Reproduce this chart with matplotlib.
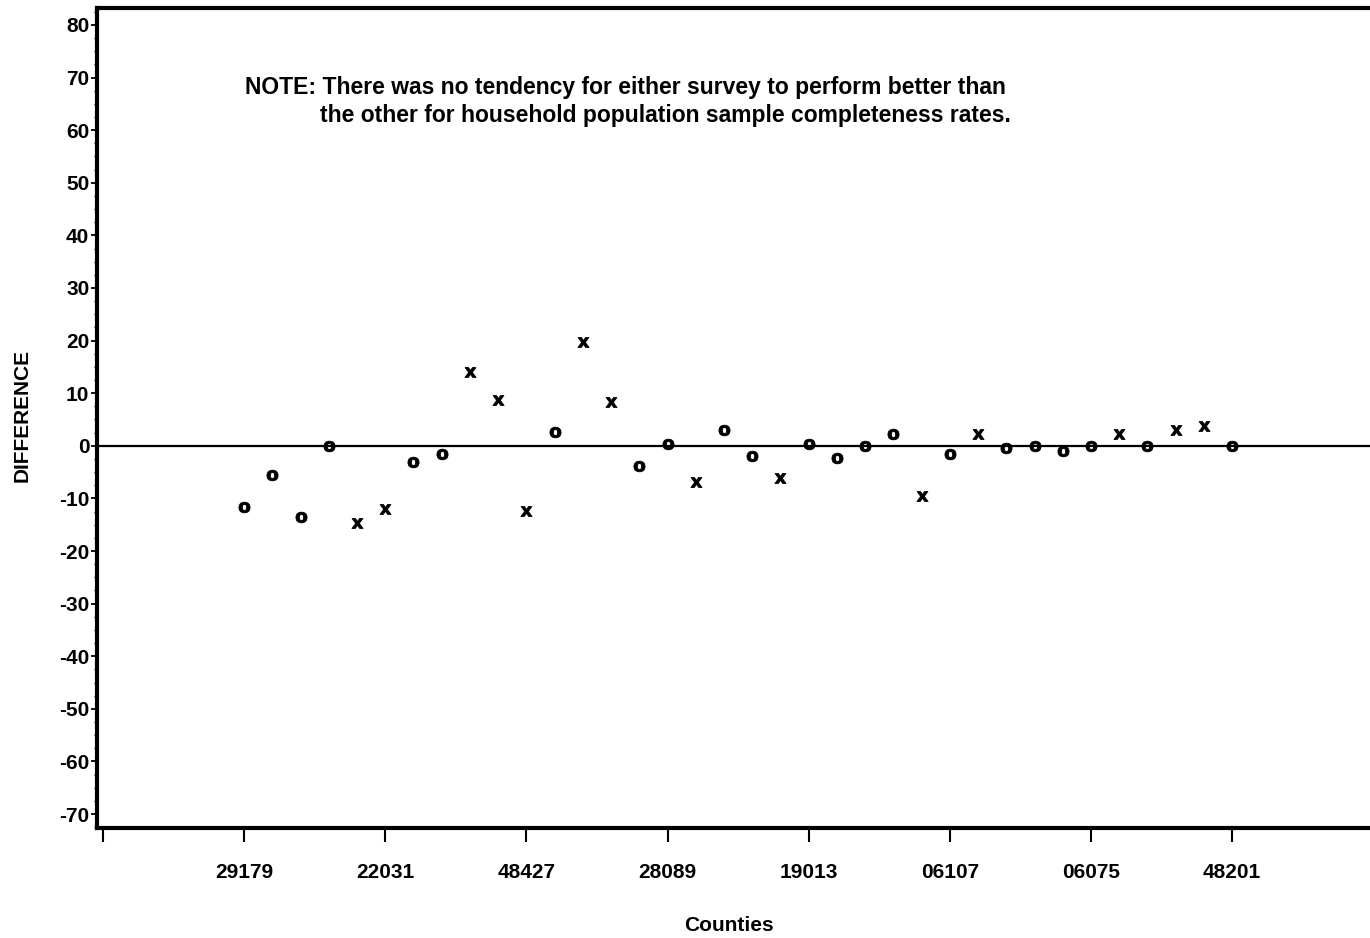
import matplotlib
matplotlib.use("Agg")
import matplotlib.pyplot as plt
from matplotlib.ticker import MultipleLocator, FixedLocator

plt.rcParams['font.family'] = ['Liberation Sans', 'DejaVu Sans']
plt.rcParams['font.weight'] = 'bold'
plt.rcParams['axes.unicode_minus'] = False

# county tick labels (every 5th position)
tick_pos = [-5, 0, 5, 10, 15, 20, 25, 30, 35]
tick_labels = ['', '29179', '22031', '48427', '28089', '19013', '06107', '06075', '48201']

# differences per county, with the survey that did better
diff = [-11.7, -5.6, -13.6, 0.0, -14.7, -12.1, -3.0, -1.5, 14.1, 8.8,
        -12.4, 2.7, 19.8, 8.4, -3.9, 0.4, -6.8, 3.0, -2.0, -6.2,
        0.4, -2.4, 0.0, 2.3, -9.5, -1.5, 2.3, -0.4, 0.0, -0.9,
        0.0, 2.3, 0.0, 3.0, 3.8, 0.0]
symbol = ['o', 'o', 'o', 'o', 'x', 'x', 'o', 'o', 'x', 'x',
          'x', 'o', 'x', 'x', 'o', 'o', 'x', 'o', 'o', 'x',
          'o', 'o', 'o', 'o', 'x', 'o', 'x', 'o', 'o', 'o',
          'o', 'x', 'o', 'x', 'x', 'o']

W, H = 1370, 938
fig = plt.figure(figsize=(W / 100, H / 100), dpi=100)
left, right, top, bottom = 97, 1372, 8, 828
ax = fig.add_axes([left / W, 1 - bottom / H, (right - left) / W, (bottom - top) / H])

xs = list(range(len(diff)))
for s in ['o', 'x']:
    px = [x for x, m in zip(xs, symbol) if m == s]
    py = [y for y, m in zip(diff, symbol) if m == s]
    ax.plot(px, py, linestyle='none', marker=r'$\mathrm{%s}$' % s,
            markersize=8, color='black', markeredgewidth=0.6)

ax.axhline(0, color='black', lw=1.6, zorder=1)

ax.set_xlim(-5.21, -5.21 + (right - left) / 28.23)
ax.set_ylim(-72.66, 83.23)

ax.yaxis.set_major_locator(MultipleLocator(10))
ax.yaxis.set_minor_locator(MultipleLocator(2.5))
ax.xaxis.set_major_locator(FixedLocator(tick_pos))
ax.set_xticklabels(tick_labels)

for sp in ['left', 'top', 'bottom']:
    ax.spines[sp].set_linewidth(3)
ax.spines['right'].set_visible(False)

ax.tick_params(axis='y', which='major', length=4, width=1.3, pad=1.5, labelsize=15)
ax.tick_params(axis='y', which='minor', length=2, width=1.0)
ax.tick_params(axis='x', which='major', length=10, width=1.5, pad=15, labelsize=15)

fig.text(22 / W, 1 - 415 / H, 'DIFFERENCE', rotation=90, ha='center', va='center',
         fontsize=15, fontweight='bold')
fig.text(729 / W, 1 - 925 / H, 'Counties', ha='center', va='center',
         fontsize=15, fontweight='bold')

fig.text(245 / W, 1 - 94 / H,
         'NOTE: There was no tendency for either survey to perform better than',
         ha='left', va='baseline', fontsize=16.5, fontweight='bold')
fig.text(320 / W, 1 - 122 / H,
         'the other for household population sample completeness rates.',
         ha='left', va='baseline', fontsize=16.5, fontweight='bold')

fig.savefig('out.png', dpi=100)
